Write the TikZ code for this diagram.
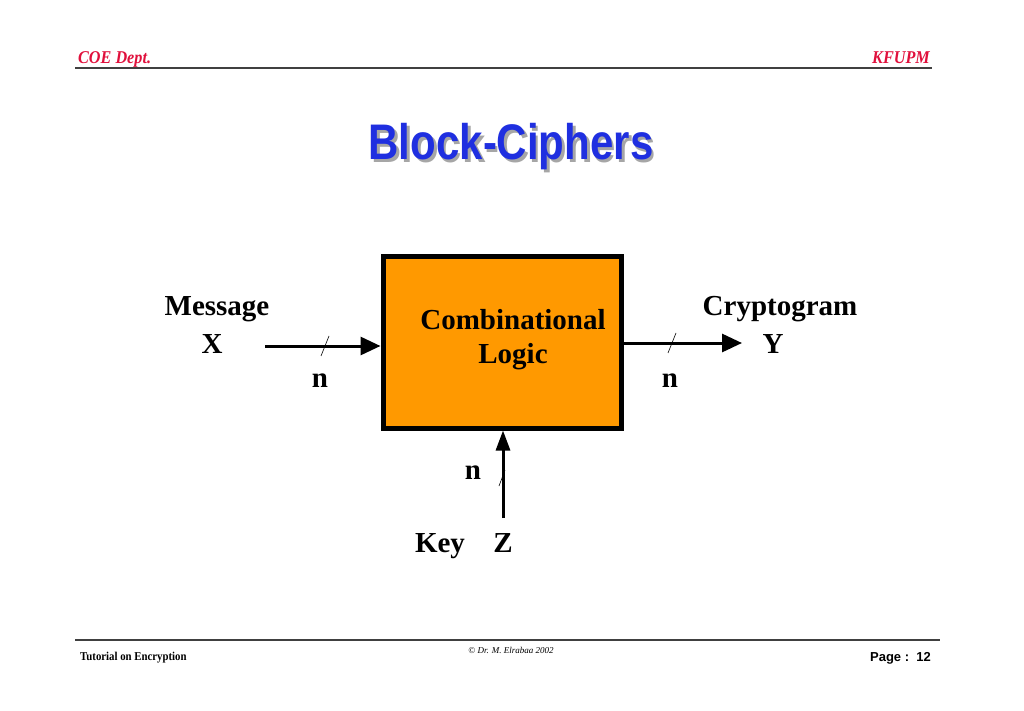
\documentclass[tikz,border=0pt]{standalone}
\usepackage{fontspec}
\setmainfont{Liberation Serif}
\setsansfont{Liberation Sans}
\usetikzlibrary{arrows.meta}
\definecolor{hdrred}{HTML}{E0103C}
\definecolor{titleblue}{HTML}{1F2FE0}
\definecolor{boxorange}{HTML}{FF9900}
\tikzset{
  lbl/.style={font=\fontsize{29}{32}\selectfont\bfseries, inner sep=0pt, anchor=base},
  sig/.style={line width=3pt, -{Triangle[length=20pt,width=18pt]}},
  tick/.style={line width=0.6pt},
  rule/.style={line width=1.2pt, draw=black!75},
}
\begin{document}
\begin{tikzpicture}[x=1pt,y=-1pt]
\useasboundingbox (0,0) rectangle (1024,711);
% header
\node[anchor=base west, inner sep=0pt, text=hdrred, font=\fontsize{18}{20}\selectfont\bfseries\itshape, xscale=0.9] (coe) at (78,64) {COE Dept.};
\node[anchor=base east, inner sep=0pt, text=hdrred, font=\fontsize{18}{20}\selectfont\bfseries\itshape, xscale=0.9] (kf) at (930,64) {KFUPM};
\draw[rule] (75,68) -- (932,68);
% title with shadow
\node[inner sep=0pt, anchor=base, font=\sffamily\bfseries\fontsize{50}{55}\selectfont, xscale=0.84] (title) at (511,160)
  {\rlap{\raisebox{-3pt}{\hspace{3pt}\textcolor{black!35}{Block-Ciphers}}}\textcolor{titleblue}{Block-Ciphers}};
% box
\node[draw=black, line width=5pt, fill=boxorange, minimum width=238pt, minimum height=172pt, inner sep=0pt] (box) at (502,342) {};
\node[lbl] (comb) at (513,329) {Combinational};
\node[lbl] (logic) at (513,363) {Logic};
% input
\node[lbl] (msg) at (217,315) {Message};
\node[lbl] (x) at (212,353) {X};
\coordinate (inS) at (265,346);
\draw[sig] (inS) -- (box.west |- inS);
\draw[tick] (321,356) -- (329,336);
\node[lbl] (nin) at (320,387) {n};
% output
\node[lbl] (cry) at (780,315) {Cryptogram};
\node[lbl] (y) at (773,353) {Y};
\coordinate (outE) at (742,343);
\draw[sig] (box.east |- outE) -- (outE);
\draw[tick] (668,353) -- (676,333);
\node[lbl] (nout) at (670,387) {n};
% key
\node[lbl] (key) at (440,552) {Key};
\node[lbl] (z) at (503,552) {Z};
\coordinate (keyS) at (503,518);
\draw[line width=3pt, -{Triangle[length=20pt,width=14pt]}] (keyS) -- (keyS |- box.south);
\draw[tick] (499,486) -- (505,470);
\node[lbl] (nkey) at (473,479) {n};
% footer
\draw[rule] (75,640) -- (940,640);
\node[anchor=base west, inner sep=0pt, font=\fontsize{12}{13}\selectfont\bfseries, xscale=0.9] (tut) at (80,660) {Tutorial on Encryption};
\node[anchor=base, inner sep=0pt, font=\fontsize{9}{11}\selectfont\itshape] (copy) at (511,653) {\textcopyright{} Dr. M. Elrabaa 2002};
\node[anchor=base east, inner sep=0pt, font=\sffamily\bfseries\fontsize{13}{15}\selectfont] (page) at (931,661) {Page :\ \ 12};
\end{tikzpicture}
\end{document}
